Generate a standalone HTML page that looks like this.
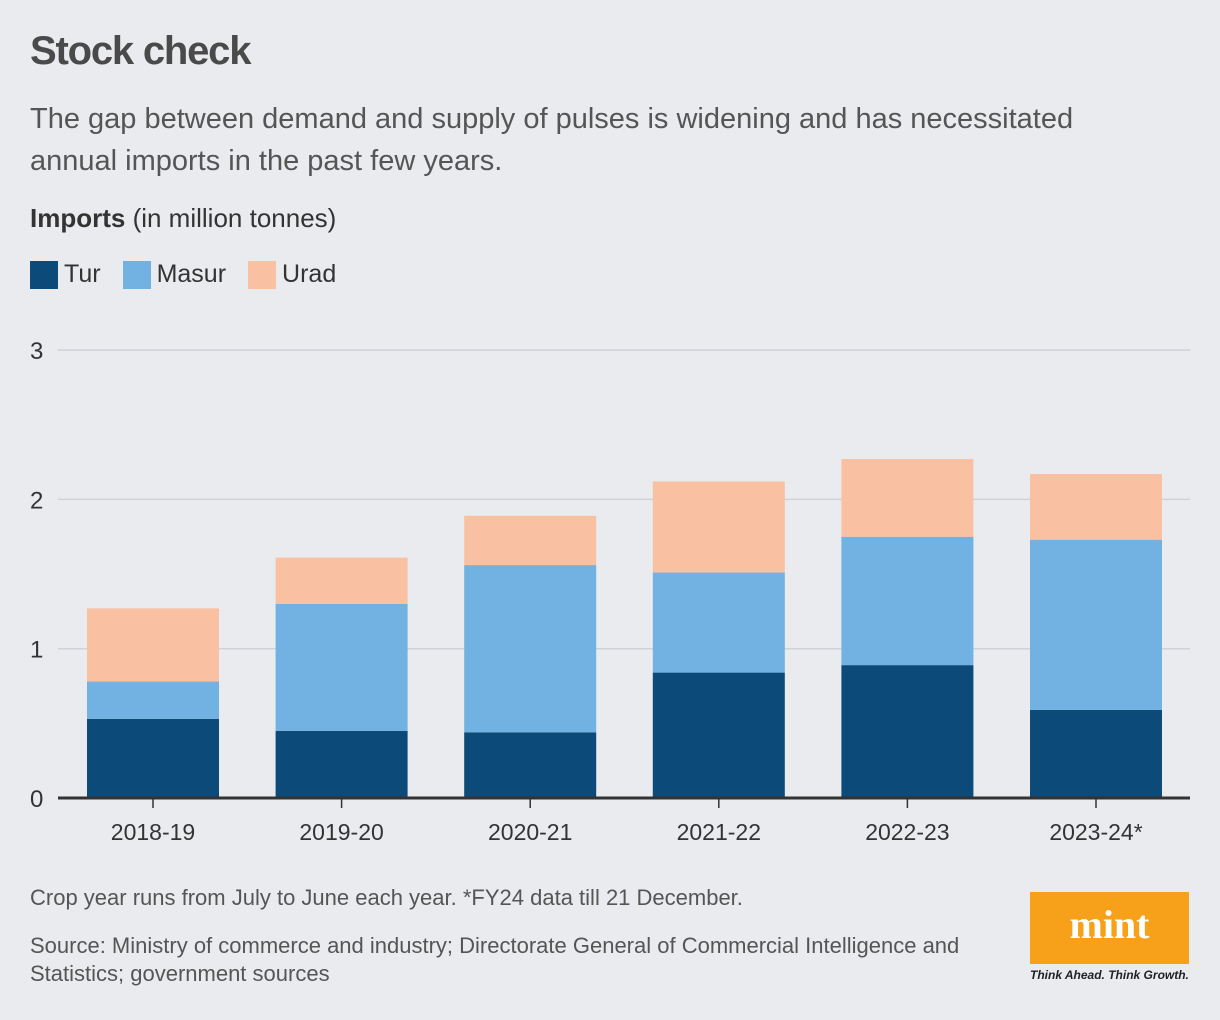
<!DOCTYPE html>
<html><head><meta charset="utf-8"><style>
body{margin:0;width:1220px;height:1020px;background:#e9ebef;font-family:"Liberation Sans",sans-serif;color:#3a3a3a;overflow:hidden;position:relative}
.abs{position:absolute}
</style></head><body>
<div class="abs" style="left:30px;top:29px;font-size:40px;font-weight:bold;color:#4a4a4a;letter-spacing:-1.2px">Stock check</div>
<div class="abs" style="left:30px;top:98px;font-size:29px;line-height:42px;color:#555;width:1090px">The gap between demand and supply of pulses is widening and has necessitated annual imports in the past few years.</div>
<div class="abs" style="left:30px;top:203px;font-size:26px;color:#333"><b>Imports</b> (in million tonnes)</div>
<div class="abs" style="left:30px;top:260px;font-size:25px;color:#333;display:flex;align-items:center">
<span style="display:flex;align-items:center;margin-right:22px"><span style="width:28px;height:28px;background:#0c4a79;margin-right:6px"></span>Tur</span>
<span style="display:flex;align-items:center;margin-right:22px"><span style="width:28px;height:28px;background:#71b2e2;margin-right:6px"></span>Masur</span>
<span style="display:flex;align-items:center"><span style="width:28px;height:28px;background:#f9c0a1;margin-right:6px"></span>Urad</span>
</div>
<svg id="chart" class="abs" style="left:0;top:0" width="1220" height="1020"></svg>
<div class="abs" style="left:30px;top:885px;font-size:22px;color:#555">Crop year runs from July to June each year. *FY24 data till 21 December.</div>
<div class="abs" style="left:30px;top:932px;font-size:22px;line-height:28px;color:#555;width:980px">Source: Ministry of commerce and industry; Directorate General of Commercial Intelligence and Statistics; government sources</div>
<div class="abs" style="left:1030px;top:892px;width:159px;height:72px;background:#f7a11a;color:#fff;font-family:'Liberation Serif',serif;font-weight:bold;font-size:40px;text-align:center;line-height:66px">mint</div>
<div class="abs" style="left:1030px;top:968px;font-size:12px;font-weight:bold;font-style:italic;color:#222">Think Ahead. Think Growth.</div>
<script>
const categories=["2018-19","2019-20","2020-21","2021-22","2022-23","2023-24*"];
const tur=[0.53,0.45,0.44,0.84,0.89,0.59];
const masur=[0.25,0.85,1.12,0.67,0.86,1.14];
const urad=[0.49,0.31,0.33,0.61,0.52,0.44];
const yTicks=[0,1,2,3];
const svg=document.getElementById('chart');
const NS='http://www.w3.org/2000/svg';
const y=v=>798-v*149.3;
const x=i=>87+i*188.6;
const bw=132;
function mk(t,a){const e=document.createElementNS(NS,t);for(const k in a)e.setAttribute(k,a[k]);svg.appendChild(e);return e;}
yTicks.forEach(t=>{
 if(t>0){const g=mk('line',{x1:58,x2:1190,y1:y(t),y2:y(t),stroke:'#cfd3d8','stroke-width':1.5});
 
 }
 const l=mk('text',{x:30,y:y(t)+9,'font-size':24,fill:'#333','font-family':'Liberation Sans'});l.textContent=t;
 
 
});
const series=[[tur,'#0c4a79','tur'],[masur,'#71b2e2','masur'],[urad,'#f9c0a1','urad']];
categories.forEach((c,i)=>{
 let base=0;
 series.forEach(([arr,col,n])=>{
  const r=mk('rect',{x:x(i),y:y(base+arr[i]),width:bw,height:y(base)-y(base+arr[i]),fill:col});
  
  
  base+=arr[i];
 });
 const tk=mk('line',{x1:x(i)+bw/2,x2:x(i)+bw/2,y1:798,y2:808,stroke:'#333','stroke-width':1.5});
 
 
 const t=mk('text',{x:x(i)+bw/2,y:840,'font-size':23,fill:'#333','text-anchor':'middle','font-family':'Liberation Sans'});t.textContent=c;
 
 
});
const ax=mk('line',{x1:58,x2:1190,y1:798,y2:798,stroke:'#333','stroke-width':3});


</script>
</body></html>
